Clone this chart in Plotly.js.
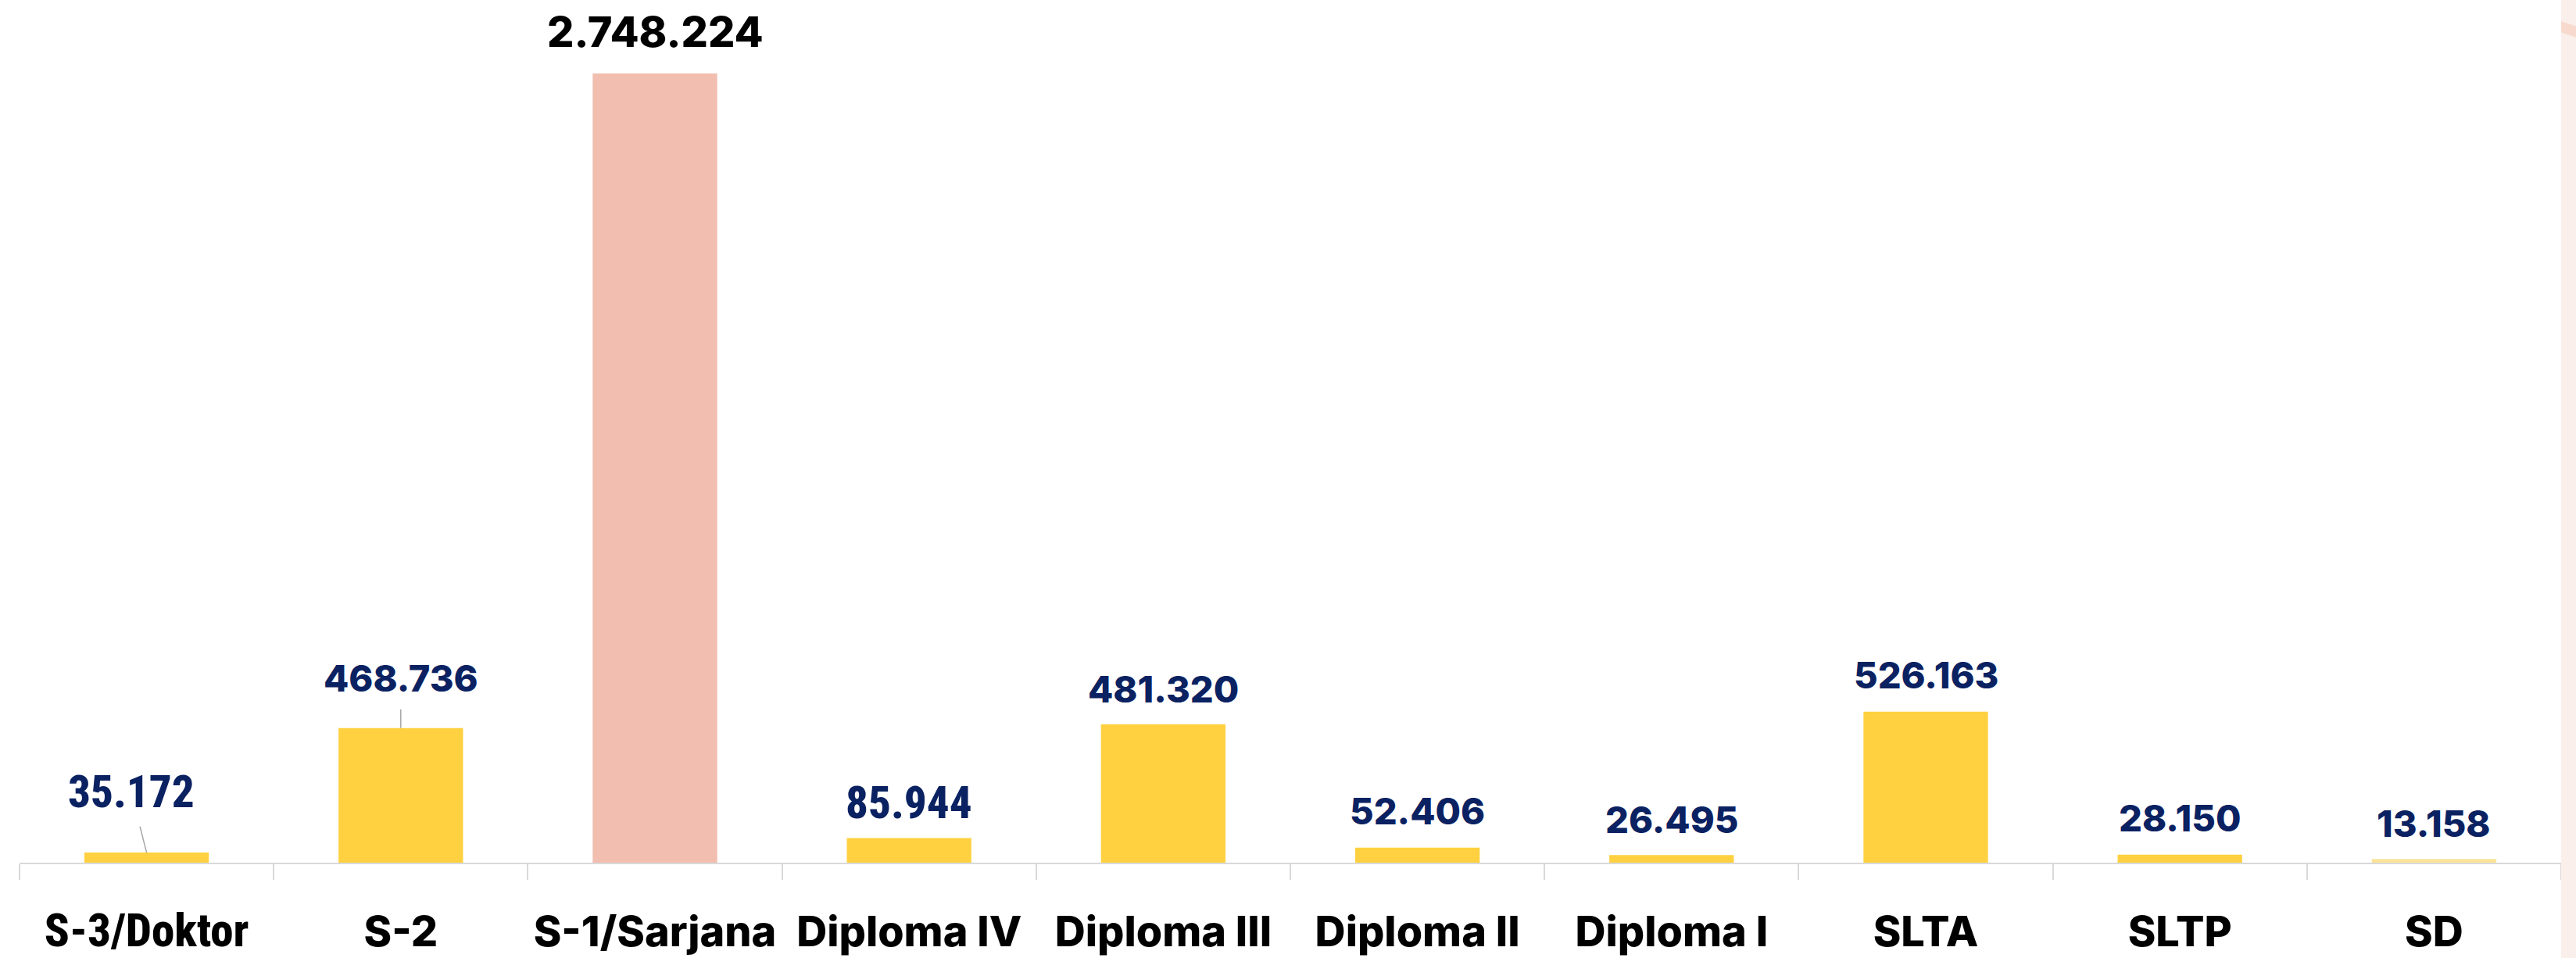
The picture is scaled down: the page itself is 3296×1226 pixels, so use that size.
<!DOCTYPE html>
<html>
<head>
<meta charset="utf-8">
<script src="https://cdn.plot.ly/plotly-3.0.1.min.js"></script>
<style>
  html, body { margin: 0; padding: 0; background: #ffffff; }
  #chart { width: 3296px; height: 1226px; }
</style>
</head>
<body>
<div id="chart"></div>
<script>
// ---- data ----
const categories = ["S-3/Doktor", "S-2", "S-1/Sarjana", "Diploma IV", "Diploma III",
                    "Diploma II", "Diploma I", "SLTA", "SLTP", "SD"];
const values = [35172, 468736, 2748224, 85944, 481320, 52406, 26495, 526163, 28150, 13158];
const valueLabels = ["35.172", "468.736", "2.748.224", "85.944", "481.320",
                     "52.406", "26.495", "526.163", "28.150", "13.158"];

// ---- styles ----
const YELLOW = "#FFD141";
const PINK = "#F1BEB0";
const NAVY = "#0B2262";
const barColors = categories.map((c, i) => (i === 2 ? PINK : (i === 9 ? "#FBE39A" : YELLOW)));
const MAIN_FONT = "Inter, 'Open Sans', sans-serif";
const NARROW_FONT = "'Liberation Sans Narrow', 'Roboto Condensed', 'DejaVu Sans Condensed', sans-serif";
// label placement (pixels): [xshift, label centre above bar top, leader line?]
const labelPlacement = [
  [-20, 78, true], [0, 64, true], [0, 54, false], [0, 45, false], [0, 46, false],
  [0, 47, false], [0, 46, false], [0, 47, false], [0, 47, false], [0, 46, false]
];
const narrowValueIdx = [0, 3];
const narrowTickIdx = [0];

const tickText = categories.map((c, i) =>
  narrowTickIdx.includes(i)
    ? "<span style=\"font-family:'Roboto Condensed', 'DejaVu Sans Condensed', sans-serif;font-size:59px\">" + c + "</span>"
    : c);

const annotations = categories.map((c, i) => {
  const [dx, dy, leader] = labelPlacement[i];
  const narrow = narrowValueIdx.includes(i);
  const base = {
    x: c, y: values[i], xref: "x", yref: "y",
    text: valueLabels[i],
    font: {
      family: narrow ? NARROW_FONT : MAIN_FONT,
      size: narrow ? 57 : (i === 2 ? 54 : 47),
      weight: 800,
      color: i === 2 ? "#000000" : NAVY
    }
  };
  if (leader) {
    return Object.assign(base, {
      showarrow: true, arrowhead: 0, arrowwidth: 1.5, arrowcolor: "#A6A6A6",
      ax: dx, ay: -dy, startstandoff: 10, standoff: 0
    });
  }
  return Object.assign(base, {
    showarrow: false, xanchor: "center", yanchor: "middle", xshift: dx, yshift: dy
  });
});

const trace = {
  type: "bar",
  x: categories,
  y: values,
  marker: { color: barColors, line: { width: 0 } },
  hoverinfo: "x+y",
  cliponaxis: false
};

const layout = {
  width: 3296,
  height: 1226,
  margin: { l: 25, r: 19, t: 94, b: 122, pad: 0 },
  paper_bgcolor: "#ffffff",
  plot_bgcolor: "#ffffff",
  showlegend: false,
  bargap: 0.51,
  xaxis: {
    type: "category",
    tickmode: "array",
    tickvals: categories,
    ticktext: tickText,
    tickson: "boundaries",
    ticks: "outside",
    ticklen: 20,
    tickwidth: 2,
    tickcolor: "#D9D9D9",
    showline: true,
    linecolor: "#D9D9D9",
    linewidth: 2,
    showgrid: false,
    zeroline: false,
    ticklabelstandoff: 40,
    tickfont: { family: MAIN_FONT, size: 54, weight: 800, color: "#000000" },
    fixedrange: true
  },
  yaxis: {
    visible: false,
    range: [0, 2748224],
    showgrid: false,
    zeroline: false,
    fixedrange: true
  },
  annotations: annotations,
  shapes: [
    { type: "rect", xref: "paper", yref: "paper", layer: "above",
      x0: 1, x1: 1 + 19 / 3252, y0: -122 / 1010, y1: 1 + 94 / 1010,
      fillcolor: "#FAEFEA", line: { width: 0 } },
    { type: "path", xref: "paper", yref: "paper", layer: "above",
      path: "M 1 1.066 L 1.00585 1.06 L 1.00585 1.046 L 1 1.052 Z",
      fillcolor: "#F8D9CD", line: { width: 0 } }
  ]
};

Plotly.newPlot("chart", [trace], layout, { displayModeBar: false, staticPlot: true });
</script>
</body>
</html>
